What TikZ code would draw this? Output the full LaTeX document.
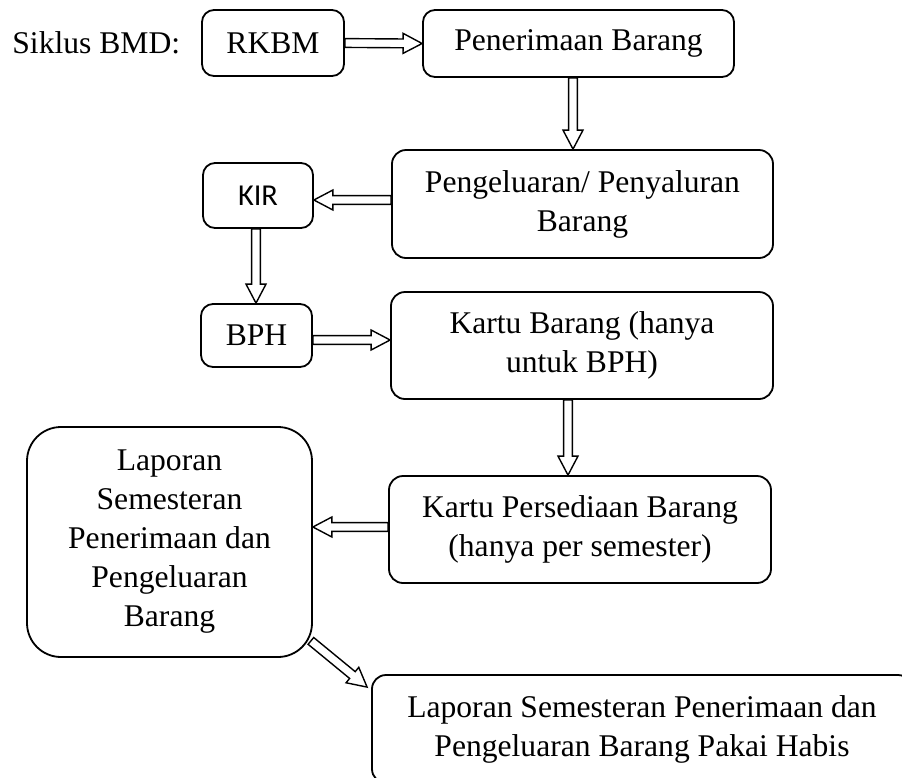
\documentclass[tikz,border=0pt]{standalone}
\usepackage{fontspec}
\setmainfont{Liberation Serif}
\newfontfamily\kirFont{Carlito}
\usetikzlibrary{calc}

\newcommand{\boxTextSty}{\fontsize{15.8}{19.5}\selectfont}
\newcommand{\shaftW}{2.2pt}
\newcommand{\headW}{5pt}
\newcommand{\headL}{9.5pt}

\tikzset{
  flowBox/.style={draw, line width=0.9pt, rounded corners=6pt, inner sep=0pt,
    align=center, font=\boxTextSty},
  bigBox/.style={flowBox, rounded corners=17pt},
  blockArrow/.style={draw, fill=white, line width=0.7pt, to path={
    ($(\tikztostart)!\shaftW!90:(\tikztotarget)$)
    -- ($($(\tikztotarget)!\headL!(\tikztostart)$)!\shaftW!90:(\tikztotarget)$)
    -- ($($(\tikztotarget)!\headL!(\tikztostart)$)!\headW!90:(\tikztotarget)$)
    -- (\tikztotarget)
    -- ($($(\tikztotarget)!\headL!(\tikztostart)$)!\headW!-90:(\tikztotarget)$)
    -- ($($(\tikztotarget)!\headL!(\tikztostart)$)!\shaftW!-90:(\tikztotarget)$)
    -- ($(\tikztostart)!\shaftW!-90:(\tikztotarget)$)
    -- cycle}}
}

\begin{document}
\begin{tikzpicture}[x=0.5pt, y=-0.5pt]

    % page
    \clip (0,0) rectangle (902,778);

    % heading
    \node[anchor=base west, inner sep=0pt, font=\boxTextSty] (siklus) at (12,53) {Siklus BMD:};

    % first row
    \node[flowBox, minimum width=71pt, minimum height=33pt] (rkbm) at (273,43) {RKBM};
    \node[flowBox, minimum width=155.5pt, minimum height=33.5pt] (pen) at (578.5,43.5) {Penerimaan Barang};

    % distribution
    \node[flowBox, rounded corners=7pt, minimum width=190.5pt, minimum height=54pt] (peng) at (582.5,204) {Pengeluaran/ Penyaluran\\Barang};
    \node[flowBox, minimum width=55pt, minimum height=32.5pt, font=\kirFont\fontsize{15.2}{18}\selectfont] (kir) at (258,195.5) {KIR};
    \node[flowBox, minimum width=55.5pt, minimum height=31.5pt] (bph) at (256.5,335.5) {BPH};

    % cards
    \node[flowBox, rounded corners=7pt, minimum width=191pt, minimum height=53.5pt] (kb) at (582,345.5) {Kartu Barang (hanya\\untuk BPH)};
    \node[flowBox, rounded corners=7pt, minimum width=191pt, minimum height=53.5pt] (kp) at (580,529.5) {Kartu Persediaan Barang\\(hanya per semester)};

    % reports
    \node[bigBox, minimum width=142.5pt, minimum height=115pt] (lap) at (169.5,542) {Laporan\\Semesteran\\Penerimaan dan\\Pengeluaran\\Barang};
    \node[flowBox, rounded corners=7pt, minimum width=270pt, minimum height=54pt] (bot) at (642,729) {Laporan Semesteran Penerimaan dan\\Pengeluaran Barang Pakai Habis};

    % arrows
    \draw[blockArrow] (rkbm.east) to (pen.west);
    \draw[blockArrow] ([xshift=-2.75pt]pen.south) to ([xshift=-2.75pt]pen.south |- peng.north);
    \draw[blockArrow] ([yshift=2pt]peng.west) to ([yshift=2pt]peng.west -| kir.east);
    \draw[blockArrow] ([xshift=-1pt]kir.south) to ([xshift=-1pt]kir.south |- bph.north);
    \draw[blockArrow] ([yshift=-2.25pt]bph.east) to ([yshift=-2.25pt]bph.east -| kb.west);
    \draw[blockArrow] ([xshift=-7pt]kb.south) to ([xshift=-7pt]kb.south |- kp.north);
    \draw[blockArrow] ([yshift=1.25pt]kp.west) to ([yshift=1.25pt]kp.west -| lap.east);
    \draw[blockArrow] ([xshift=-1pt, yshift=8.5pt]lap.south east) to ([xshift=-2pt, yshift=-6.5pt]bot.north west);

\end{tikzpicture}
\end{document}
